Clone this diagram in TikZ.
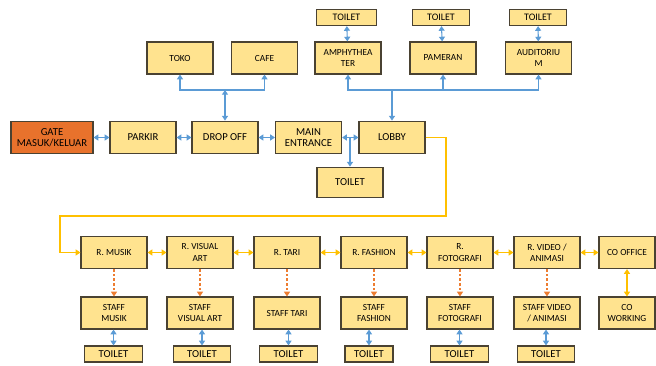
\documentclass[tikz,border=0pt]{standalone}
\usepackage{fontspec}
\setmainfont{Carlito}
\usetikzlibrary{arrows.meta}
\definecolor{boxfill}{HTML}{FFE38F}
\definecolor{boxline}{HTML}{4A4232}
\definecolor{gatefill}{HTML}{E8722C}
\definecolor{bluearr}{HTML}{5B9BD5}
\definecolor{yelarr}{HTML}{FFC000}
\definecolor{orgarr}{HTML}{ED7D31}
\tikzset{
  room/.style={draw=boxline, fill=boxfill, line width=0.9pt, align=center,
    minimum width=49.5pt, minimum height=24pt, inner sep=1pt,
    font=\fontsize{7}{8.5}\selectfont},
  bigroom/.style={room, font=\fontsize{8}{8.5}\selectfont, minimum height=24.5pt},
  wc/.style={room, minimum width=43pt, minimum height=12pt, font=\fontsize{7.5}{8}\selectfont},
  bluelink/.style={draw=bluearr, line width=0.8pt, -{Triangle[width=4.5pt,length=3.5pt]}},
  yellink/.style={draw=yelarr, line width=0.8pt, -{Triangle[width=4.5pt,length=3.5pt]}},
  both/.style={{Triangle[width=4.5pt,length=3.5pt]}-{Triangle[width=4.5pt,length=3.5pt]}},
  staffl/.style={draw=orgarr, line width=0.8pt, dash pattern=on 2pt off 1.5pt,
    -{Triangle[width=4.5pt,length=3.5pt]}}
}
\begin{document}
\begin{tikzpicture}[x=0.75pt, y=-0.75pt]
\useasboundingbox (0,0) rectangle (656,365);

% top row
\node[room] (toko) at (180,58) {TOKO};
\node[room] (cafe) at (264.5,58) {CAFE};
\node[room] (amphi) at (348,58) {AMPHYTHEA\\TER};
\node[room] (pameran) at (443,58) {PAMERAN};
\node[room] (audit) at (538.5,58) {AUDITORIU\\M};
\node[wc, minimum width=45.5pt] (wcamphi) at (346.5,17.5) {TOILET};
\node[wc] (wcpameran) at (441,17.5) {TOILET};
\node[wc] (wcaudit) at (538,17.5) {TOILET};

% entrance row
\node[bigroom, fill=gatefill, minimum width=61.5pt] (gate) at (52,137.5) {GATE\\MASUK/KELUAR};
\node[bigroom] (parkir) at (143,137.5) {PARKIR};
\node[bigroom] (dropoff) at (225,137.5) {DROP OFF};
\node[bigroom] (mainent) at (308.5,137.5) {MAIN\\ENTRANCE};
\node[bigroom] (lobby) at (392,137.5) {LOBBY};
\node[bigroom, minimum height=23pt] (wclobby) at (350,182.5) {TOILET};

\draw[bluelink, both] (gate) -- (parkir);
\draw[bluelink, both] (parkir) -- (dropoff);
\draw[bluelink, both] (dropoff) -- (mainent);
\draw[bluelink, both] (mainent) -- (lobby);
\coordinate (wcfork) at (wclobby.north |- lobby.west);
\draw[bluelink] (wcfork) -- (wclobby);

% shops
\coordinate (jdrop) at (dropoff.north |- 0,90);
\draw[bluelink, both] (dropoff) -- (jdrop);
\draw[bluelink] (jdrop) -| (toko);
\draw[bluelink] (jdrop) -| (cafe);

% halls
\coordinate (jlobby) at (lobby.north |- 0,90);
\draw[bluelink] (jlobby) -- (lobby);
\draw[bluelink] (jlobby) -| (amphi);
\draw[bluelink] (jlobby) -| (pameran);
\draw[bluelink] (jlobby) -| (audit);
\foreach \a/\b in {amphi/wcamphi, pameran/wcpameran, audit/wcaudit}
  \draw[bluelink, both] (\a) -- (\b);

% studio row
\foreach \n/\x/\t/\s in {musik/114/R. MUSIK/STAFF\\MUSIK,
    visual/200/R. VISUAL\\ART/STAFF\\VISUAL ART,
    tari/287/R. TARI/STAFF TARI,
    fashion/374/R. FASHION/STAFF\\FASHION,
    foto/460/R.\\FOTOGRAFI/STAFF\\FOTOGRAFI,
    video/547/{R. VIDEO /\\ANIMASI}/{STAFF VIDEO\\/ ANIMASI}} {
  \node[room] (\n) at (\x,252.5) {\t};
  \node[room] (staff\n) at (\x,313) {\s};
  \draw[staffl] (\n) -- (staff\n);
}
\node[room, minimum width=42pt] (cooffice) at (627,252.5) {CO OFFICE};
\node[room, minimum width=42pt] (coworking) at (627,313) {CO\\WORKING};
\draw[yellink, both] (cooffice) -- (coworking);

\foreach \n/\x/\w in {musik/113.5/43pt, visual/202/43pt, tari/288.5/43pt,
    fashion/369/36pt, foto/459.5/43pt, video/546/43pt} {
  \node[wc, minimum width=\w, font=\fontsize{8}{8}\selectfont] (wc\n) at (\x,354) {TOILET};
  \draw[bluelink, both] (staff\n.south -| wc\n.north) -- (wc\n);
}

\foreach \a/\b in {musik/visual, visual/tari, tari/fashion, fashion/foto, foto/video, video/cooffice}
  \draw[yellink, both] (\a) -- (\b);

% lobby to studios
\coordinate (ya) at (446,216);
\coordinate (yb) at (60,216);
\draw[yellink] (lobby.east) -| (ya) -- (yb) |- (musik.west);

\end{tikzpicture}
\end{document}
